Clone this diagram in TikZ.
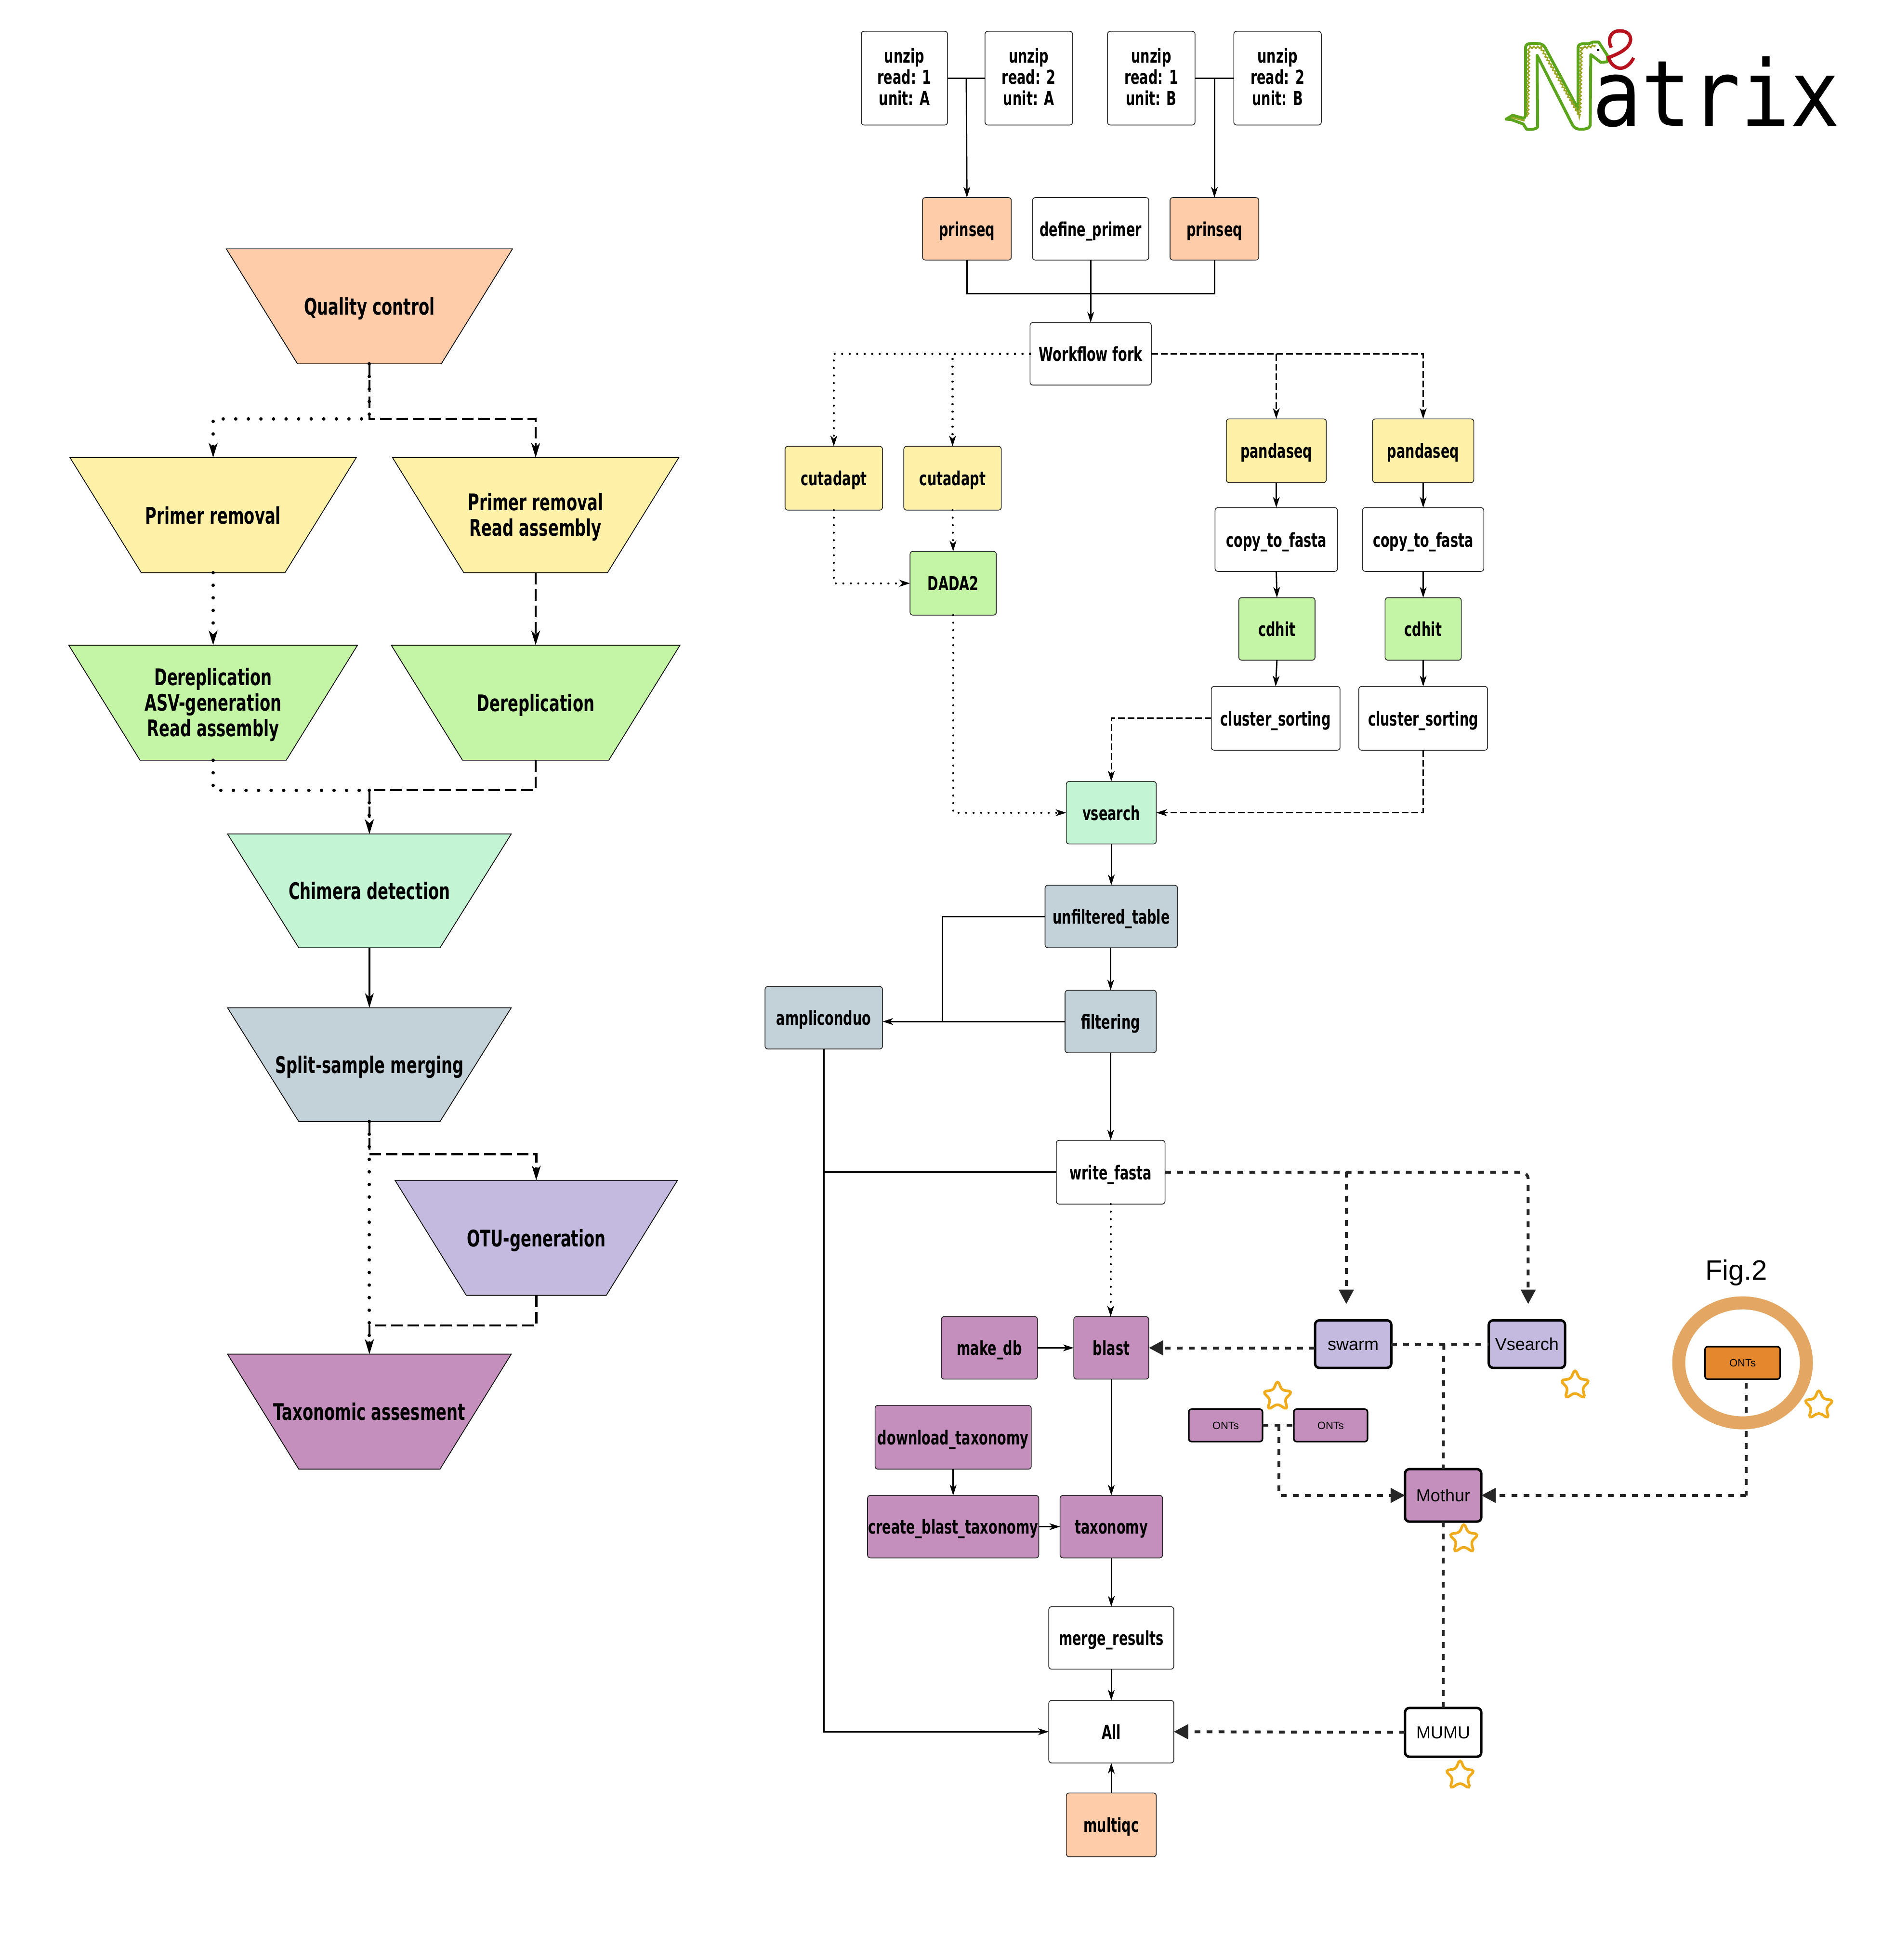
\documentclass[tikz,border=0pt]{standalone}
\usepackage{fontspec}
\usetikzlibrary{arrows.meta,calc,shapes.geometric,decorations.pathmorphing}
\newfontfamily\labfont[FakeStretch=0.68]{DejaVu Sans}
\newfontfamily\logofont[FakeStretch=0.90]{DejaVu Sans Mono}
\newfontfamily\figfont{Liberation Sans}
\definecolor{cpeach}{HTML}{FFCCAA}
\definecolor{cyell}{HTML}{FFF2A8}
\definecolor{cgreen}{HTML}{C4F5A5}
\definecolor{cmint}{HTML}{C3F4D4}
\definecolor{cgray}{HTML}{C3D1D8}
\definecolor{cviol}{HTML}{C4B9DE}
\definecolor{cmauve}{HTML}{C48FBC}
\definecolor{cdark}{HTML}{262626}
\definecolor{cstar}{HTML}{EFAB1C}
\definecolor{cring}{HTML}{E3A763}
\definecolor{corange}{HTML}{E5872C}
\definecolor{csnake}{HTML}{5BA51C}
\definecolor{colive}{HTML}{9AA524}
\definecolor{cred}{HTML}{B8121F}
\tikzset{
  x=2.595pt,y=-2.595pt,
  base/.style={inner sep=0pt,outer sep=0pt,align=center,text=black},
  trap/.style={base,rectangle,text height=36pt,text depth=0pt,font=\labfont\bfseries\fontsize{47.5}{53}\selectfont},
  trapedge/.style={draw=black,line width=1.6pt,line join=miter},
  box/.style={base,rectangle,draw=black!85,line width=1.6pt,rounded corners=6pt,text height=30.5pt,text depth=0pt,font=\labfont\bfseries\fontsize{40}{44}\selectfont},
  mbox/.style={box,text height=113.4pt,text depth=0pt},
  fig/.style={base,rectangle,draw=black,line width=5pt,rounded corners=9pt,text height=26pt,text depth=0pt,font=\figfont\fontsize{36}{42}\selectfont},
  smallfig/.style={fig,line width=3.2pt,rounded corners=6pt,text height=16pt,font=\figfont\fontsize{22}{26}\selectfont},
  con/.style={line width=2.8pt,draw=black},
  arr/.style={con,-{Stealth[length=22pt,width=14pt,inset=6pt]}},
  dot/.style={draw=black,line width=4.2pt,line cap=round,dash pattern=on 0.1pt off 15.5pt},
  dotarr/.style={dot,-{Stealth[length=22pt,width=14pt,inset=6pt,line cap=butt]}},
  dsh/.style={draw=black,line width=3pt,dash pattern=on 14pt off 6pt},
  dsharr/.style={dsh,-{Stealth[length=22pt,width=14pt,inset=6pt]}},
  ldot/.style={draw=black,line width=7pt,line cap=round,dash pattern=on 0.1pt off 26pt},
  ldotarr/.style={ldot,-{Stealth[length=30pt,width=18pt,inset=8pt,line cap=butt]}},
  ldsh/.style={draw=black,line width=4.5pt,dash pattern=on 24pt off 10pt},
  ldsharr/.style={ldsh,-{Stealth[length=30pt,width=18pt,inset=8pt]}},
  hvy/.style={draw=cdark,line width=6pt,dash pattern=on 12pt off 13pt},
  hvyarr/.style={hvy,-{Triangle[length=30pt,width=30pt,fill=cdark]}},
  pics/softstar/.style={code={
    \draw[x=1pt,y=1pt,draw=cstar,line width=5.5pt,fill=none]
      plot[smooth cycle,tension=.8] coordinates {(0,30) (10,15) (27,9) (17,-6) (18,-24) (0,-17) (-18,-24) (-17,-6) (-27,9) (-10,15)};
  }}
}
% name, x1, y1, x2, y2, style, text
\newcommand{\bx}[7]{%
  \pgfmathsetmacro{\bxw}{(#4-#2)*2.595}%
  \pgfmathsetmacro{\bxh}{(#5-#3)*2.595}%
  \node[#6,minimum width=\bxw pt,minimum height=\bxh pt] (#1) at ({(#2+#4)/2},{(#3+#5)/2}) {#7};}
% [node options] name, x1, y1, x2, y2, fill, text
\newcommand{\tz}[8][]{%
  \filldraw[trapedge,fill=#7] (#3,#4) -- (#5,#4) -- ({#5-57},#6) -- ({#3+57},#6) -- cycle;
  \pgfmathsetmacro{\bxw}{(#5-#3)*2.595}%
  \pgfmathsetmacro{\bxh}{(#6-#4)*2.595}%
  \node[trap,#1,minimum width=\bxw pt,minimum height=\bxh pt] (#2) at ({(#3+#5)/2},{(#4+#6)/2}) {#8};}
\begin{document}
\begin{tikzpicture}
\fill[white] (0,0) rectangle (1505.2,1567.6);
\useasboundingbox (0,0) rectangle (1505.2,1567.6);
% --- left column
\tz{qc}{181}{199}{410}{291}{cpeach}{Quality control}
\tz{prl}{56}{366}{285}{458}{cyell}{Primer removal}
\tz[text height=89pt,text depth=3pt]{prr}{314}{366}{543}{458}{cyell}{Primer removal\\Read assembly}
\tz[text height=142pt,text depth=1pt]{del}{55}{516}{286}{608}{cgreen}{Dereplication\\ASV-generation\\Read assembly}
\tz{der}{313}{516}{544}{608}{cgreen}{Dereplication}
\tz{chi}{182}{667}{409}{758}{cmint}{Chimera detection}
\tz{spl}{182}{806}{409}{897}{cgray}{Split-sample merging}
\tz{otu}{316}{944}{542}{1036}{cviol}{OTU-generation}
\tz{tax}{182}{1083}{409}{1175}{cmauve}{Taxonomic assesment}
\coordinate (qj) at (295.5,335);
\coordinate (dj) at (295.5,632);
\coordinate (sj) at (295.5,923);
\coordinate (oj) at (295.5,1060);
\path[ldotarr] (qc.south) |- (qj) -| (prl.north);
\path[ldsharr] (qc.south) |- (qj) -| (prr.north);
\path[ldotarr] (prl.south) -- (del.north);
\path[ldsharr] (prr.south) -- (der.north);
\path[ldot] (del.south) |- (dj);
\path[ldsh] (der.south) |- (dj);
\path[ldotarr] (dj) -- (chi.north);
\path[ldsharr] (dj) -- (chi.north);
\draw[con,line width=3.4pt,-{Stealth[length=30pt,width=18pt,inset=8pt]}] (chi.south) -- (spl.north);
\path[ldotarr] (spl.south) -- (tax.north);
\path[ldsharr] (spl.south) |- (sj) -| (otu.north);
\path[ldsharr] (otu.south) |- (oj) -- (tax.north);
% --- right column: white and pipeline boxes
\bx{u1}{689}{25}{758}{100}{mbox,fill=white}{unzip\\read: 1\\unit: A}
\bx{u2}{788}{25}{858}{100}{mbox,fill=white}{unzip\\read: 2\\unit: A}
\bx{u3}{886}{25}{956}{100}{mbox,fill=white}{unzip\\read: 1\\unit: B}
\bx{u4}{987}{25}{1057}{100}{mbox,fill=white}{unzip\\read: 2\\unit: B}
\bx{p1}{738}{158}{809}{208}{box,fill=cpeach}{prinseq}
\bx{dp}{826}{158}{919}{208}{box,fill=white}{define\_primer}
\bx{p2}{936}{158}{1007}{208}{box,fill=cpeach}{prinseq}
\bx{fork}{824}{258}{921}{308}{box,fill=white}{Workflow fork}
\bx{c1}{628}{357}{706}{408}{box,fill=cyell}{cutadapt}
\bx{c2}{723}{357}{801}{408}{box,fill=cyell}{cutadapt}
\bx{dada}{728}{441}{797}{492}{box,fill=cgreen}{DADA2}
\bx{pa1}{981}{335}{1061}{386}{box,fill=cyell}{pandaseq}
\bx{pa2}{1098}{335}{1179}{386}{box,fill=cyell}{pandaseq}
\bx{cf1}{972}{406}{1070}{457}{box,fill=white}{copy\_to\_fasta}
\bx{cf2}{1090}{406}{1187}{457}{box,fill=white}{copy\_to\_fasta}
\bx{cd1}{991}{478}{1052}{528}{box,fill=cgreen}{cdhit}
\bx{cd2}{1108}{478}{1169}{528}{box,fill=cgreen}{cdhit}
\bx{cs1}{969}{549}{1072}{600}{box,fill=white}{cluster\_sorting}
\bx{cs2}{1087}{549}{1190}{600}{box,fill=white}{cluster\_sorting}
\bx{vs}{853}{625}{925}{675}{box,fill=cmint}{vsearch}
\bx{unf}{836}{708}{942}{758}{box,fill=cgray}{unfiltered\_table}
\bx{fil}{852}{792}{925}{842}{box,fill=cgray}{filtering}
\bx{amp}{612}{789}{706}{839}{box,fill=cgray}{ampliconduo}
\bx{wf}{845}{912}{932}{963}{box,fill=white}{write\_fasta}
\bx{mdb}{753}{1053}{830}{1103}{box,fill=cmauve}{make\_db}
\bx{bl}{859}{1053}{919}{1103}{box,fill=cmauve}{blast}
\bx{dt}{700}{1124}{825}{1175}{box,fill=cmauve}{download\_taxonomy}
\bx{cbt}{694}{1196}{831}{1246}{box,fill=cmauve}{create\_blast\_taxonomy}
\bx{txn}{848}{1196}{930}{1246}{box,fill=cmauve}{taxonomy}
\bx{mr}{839}{1285}{939}{1335}{box,fill=white}{merge\_results}
\bx{all}{839}{1360}{939}{1410}{box,fill=white}{All}
\bx{mq}{853}{1434}{925}{1485}{box,fill=cpeach}{multiqc}
% connectors
\coordinate (j1) at ($(u1.east)!.5!(u2.west)$);
\coordinate (j2) at ($(u3.east)!.5!(u4.west)$);
\coordinate (mj) at (872.5,235);
\draw[con] (u1.east) -- (u2.west);
\draw[con] (u3.east) -- (u4.west);
\draw[arr] (j1) -- (p1.north);
\draw[arr] (j2) -- (p2.north);
\draw[con] (p1.south) |- (mj);
\draw[con] (p2.south) |- (mj);
\draw[arr] (dp.south) -- (fork.north);
\path[dotarr] (fork.west) -| (c1.north);
\path[dotarr] (fork.west) -| (c2.north);
\path[dsharr] (fork.east) -| (pa1.north);
\path[dsharr] (fork.east) -| (pa2.north);
\path[dotarr] (c2.south) -- (dada.north);
\path[dotarr] (c1.south) |- (dada.west);
\path[dotarr] (dada.south) |- (vs.west);
\draw[arr] (pa1.south) -- (cf1.north);
\draw[arr] (pa2.south) -- (cf2.north);
\draw[arr] (cf1.south) -- (cd1.north);
\draw[arr] (cf2.south) -- (cd2.north);
\draw[arr] (cd1.south) -- (cs1.north);
\draw[arr] (cd2.south) -- (cs2.north);
\path[dsharr] (cs1.west) -| (vs.north);
\path[dsharr] (cs2.south) |- (vs.east);
\draw[arr] (vs.south) -- (unf.north);
\draw[arr] (unf.south -| fil.north) -- (fil.north);
\coordinate (ak) at (754,817);
\draw[con] (unf.west) -| (ak);
\draw[arr] (fil.west) -- (fil.west -| amp.east);
\draw[arr] (fil.south) -- (fil.south |- wf.north);
\draw[arr] (amp.south) |- (all.west);
\draw[con] (wf.west) -- (wf.west -| amp.south);
\draw[arr] (mdb.east) -- (bl.west);
\draw[arr] (bl.south) -- (bl.south |- txn.north);
\draw[arr] (dt.south) -- (cbt.north);
\draw[arr] (cbt.east) -- (txn.west);
\draw[arr] (txn.south) -- (mr.north);
\draw[arr] (mr.south) -- (all.north);
\draw[arr] (mq.north) -- (all.south);
\path[dotarr] (wf.south) -- (wf.south |- bl.north);
% --- added tools
\bx{sw}{1052}{1056}{1113}{1094}{fig,fill=cviol}{swarm}
\bx{vse}{1191}{1056}{1252}{1094}{fig,fill=cviol}{Vsearch}
\bx{on1}{951}{1127}{1010}{1153}{smallfig,fill=cmauve}{ONTs}
\bx{on2}{1035}{1127}{1094}{1153}{smallfig,fill=cmauve}{ONTs}
\bx{mo}{1124}{1175}{1185}{1217}{fig,fill=cmauve}{Mothur}
\bx{mu}{1124}{1366}{1185}{1405}{fig,fill=white}{MUMU}
\coordinate (at1) at (1077,1043);
\coordinate (at2) at (1222.5,1043);
\coordinate (sv) at (1155,1075);
\coordinate (oj1) at (1023,1140);
\coordinate (rj) at (1397,1196);
\coordinate (rt) at (1397,1106);
\path[hvyarr] (wf.east) -| (at1);
\path[hvyarr,rounded corners=14pt] (wf.east) -| (at2);
\path[hvyarr] (sw.west |- bl.east) -- (bl.east);
\path[hvy] (sw.east) -- (vse.west);
\path[hvy] (sv) -- (mo.north);
\path[hvy] (mo.south) -- (mu.north);
\path[hvy] (on1.east) -- (on2.west);
\path[hvyarr] (oj1) |- (mo.west);
\path[hvy] (rt) -- (rj);
\path[hvyarr] (rj) -- (mo.east);
\path[hvyarr] (mu.west) -- (all.east);
% ring and Fig.2
\node[ellipse,draw=cring,line width=27pt,minimum width=265pt,minimum height=249pt,inner sep=0pt] (ring) at (1394,1090) {};
\bx{on3}{1364}{1077}{1424}{1103}{smallfig,fill=corange}{ONTs}
\node[base,font=\figfont\fontsize{58}{66}\selectfont] (figl) at (1389,1018) {Fig.2};
% stars
\pic at (1260,1108) {softstar};
\pic at (1022,1117) {softstar};
\pic at (1171,1231) {softstar};
\pic at (1168,1420) {softstar};
\pic at (1455,1124) {softstar};
% --- logo
\node[anchor=base west,inner sep=0pt,font=\logofont\fontsize{190}{190}\selectfont] (logot) at (1273.5,100.65) {atrix};
\begin{scope}[shift={(1175.4,0)},x=0.5458pt,y=-0.3333pt]
\draw[csnake,line width=6pt,line join=round,fill=white]
 (140,742) -- (165,718) -- (208,737) -- (214,720) -- (214,295)
 .. controls (214,275) and (225,270) .. (245,270) .. controls (270,270) and (280,275) .. (288,295)
 -- (414,680) -- (414,295) .. controls (414,275) and (425,270) .. (455,272) -- (470,262) -- (492,262)
 -- (525,345) -- (525,385) -- (500,388) -- (462,340) -- (460,780)
 .. controls (458,800) and (440,805) .. (425,805) .. controls (405,805) and (395,790) .. (390,770)
 -- (258,345) -- (260,790) .. controls (255,805) and (235,808) .. (218,805) -- (205,772) -- (160,745) -- cycle;
\draw[colive,line width=3pt,decorate,decoration={zigzag,amplitude=2pt,segment length=8pt}]
 (222,725) -- (226,295) -- (272,295) -- (420,722) -- (426,295) -- (458,292) -- (480,282);
\draw[colive,line width=3.5pt] (160,730) -- (210,752);
\fill[black] (490,312) ellipse [x radius=5,y radius=7];
\draw[cred,line width=7pt,line cap=butt] (540,297) .. controls (525,250) and (535,192) .. (572,192)
 .. controls (615,192) and (625,250) .. (600,295) .. controls (585,320) and (560,340) .. (530,358)
 .. controls (535,395) and (555,425) .. (575,425) .. controls (595,425) and (615,395) .. (625,360);
\end{scope}
\end{tikzpicture}
\end{document}
